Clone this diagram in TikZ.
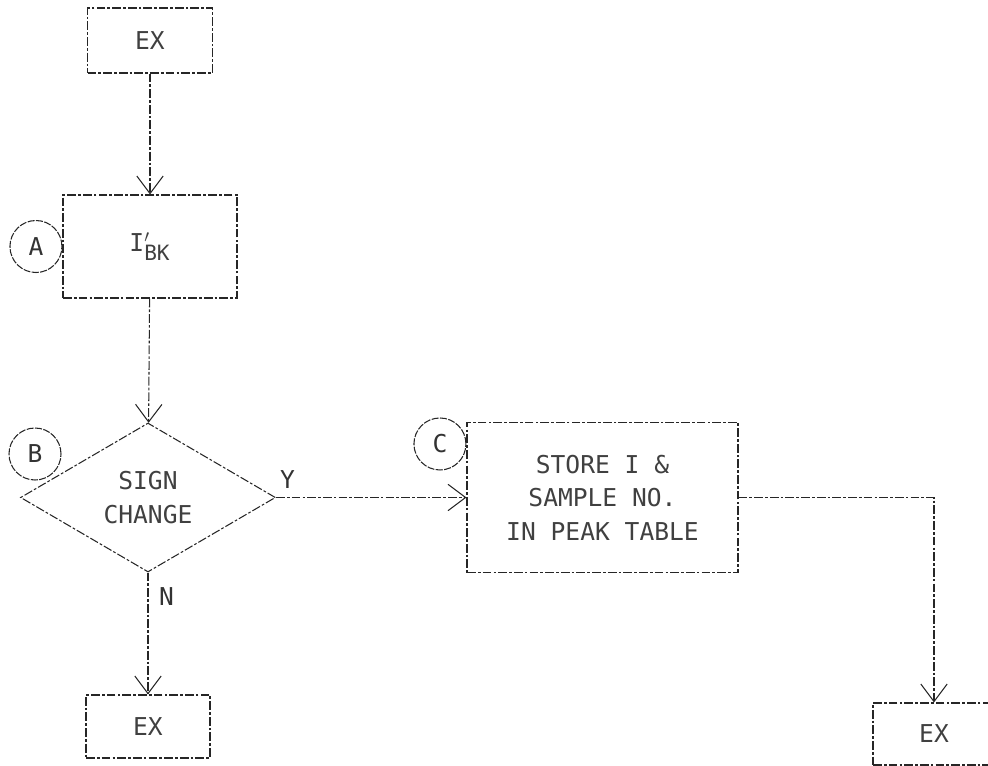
\documentclass[tikz,border=0pt]{standalone}
\usepackage{fontspec}
\setmonofont{DejaVu Sans Mono}
\usetikzlibrary{shapes.geometric,arrows.meta,positioning,calc}

\begin{document}
\begin{tikzpicture}[
    >={Straight Barb[length=10pt,width=15pt]}, node distance=0.6cm,
    ink/.style={draw=black!85, line width=0.6pt,
                dash pattern=on 5pt off 1.2pt on 1.5pt off 1.2pt},
    pbox/.style={ink, rectangle, inner sep=0pt, text=black!75,
                 font=\ttfamily\fontsize{14}{19}\selectfont, align=center},
    dec/.style={ink, diamond, inner sep=0pt, text=black!75,
                minimum width=5.1cm, minimum height=2.98cm,
                font=\ttfamily\fontsize{14}{19}\selectfont, align=center},
    conn/.style={draw=black!85, line width=0.6pt, dash pattern=on 4pt off 0.8pt,
                 text=black!80, font=\ttfamily\fontsize{14}{16}\selectfont,
                 inner sep=0pt, minimum size=1.04cm, circle},
    arr/.style={ink, ->},
    lbl/.style={font=\ttfamily\fontsize{14}{16}\selectfont, text=black!80, inner sep=2pt}
  ]
    \useasboundingbox (0,0) rectangle (19.76,-15.32);

    \node[pbox, minimum width=2.5cm, minimum height=1.3cm] (ex1) at (3.0,-0.81) {EX};
    \node[pbox, minimum width=3.48cm, minimum height=2.06cm] (bk) at (3.0,-4.93)
          {I$^{\prime}_{\mbox{\fontsize{12}{12}\selectfont BK}}$};
    \node[dec] (sign) at (2.96,-9.95) {SIGN\\CHANGE};
    \node[pbox, minimum width=2.48cm, minimum height=1.26cm] (ex2) at (2.96,-14.53) {EX};

    \node[pbox, minimum width=5.42cm, minimum height=3.0cm] (store) at (12.05,-9.95)
          {STORE I \&\\SAMPLE NO.\\IN PEAK TABLE};
    \node[pbox, minimum width=2.44cm, minimum height=1.24cm] (ex3) at (18.68,-14.68) {EX};

    %--- connector circles ---
    \node[conn, left=0pt of bk] (ca) {A};
    \node[conn] (cb) at (0.7,-9.08) {B};
    \node[conn, left=0pt of store.north west, yshift=-0.44cm] (cc) {C};

    %--- flow ---
    \draw[arr] (ex1) -- (bk);
    \draw[arr] (bk) -- (sign);
    \draw[arr] (sign.east) -- node[lbl, pos=0.06, above, yshift=3pt]{Y} (store.west);
    \draw[arr] (sign.south) -- node[lbl, pos=0.2, right, xshift=4pt]{N} (ex2.north);
    \draw[arr] (store.east) -| (ex3.north);
\end{tikzpicture}
\end{document}
